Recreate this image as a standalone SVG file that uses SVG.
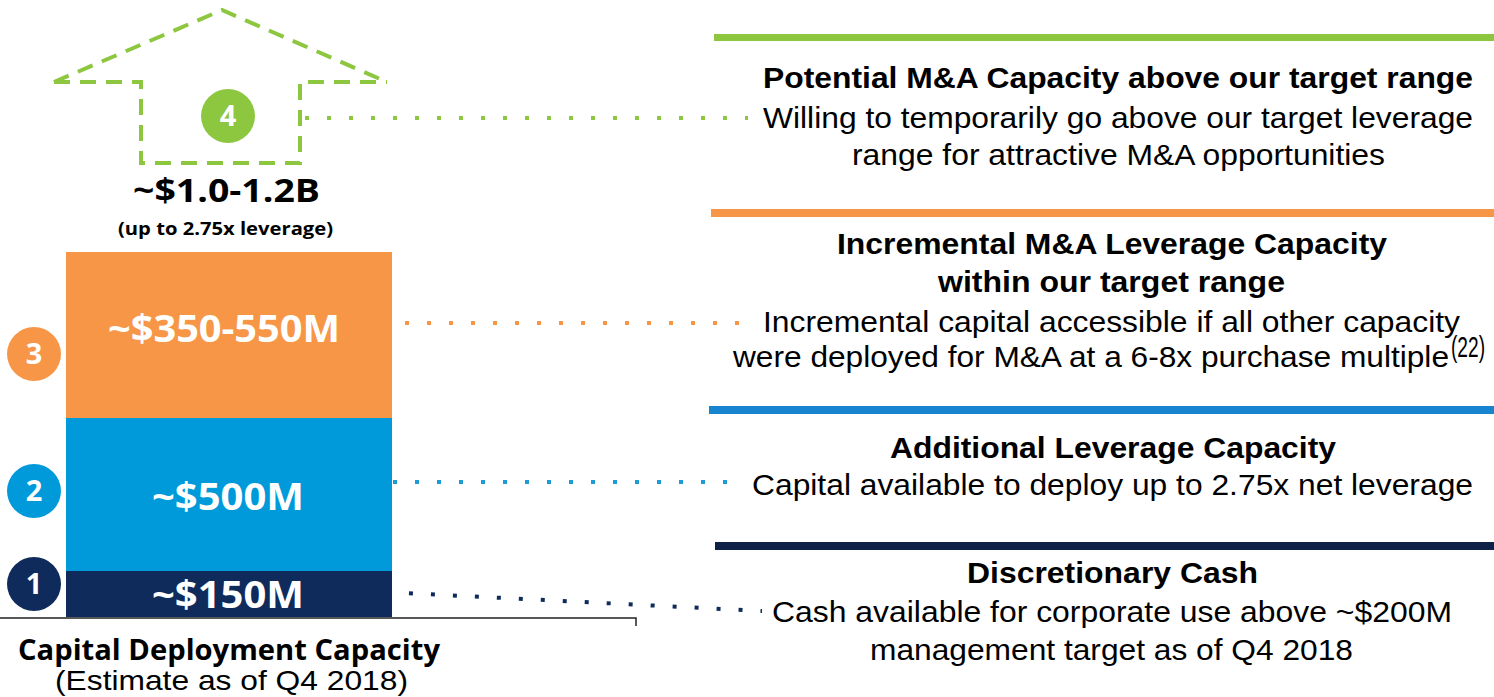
<svg xmlns="http://www.w3.org/2000/svg" width="1494" height="697" viewBox="0 0 1494 697">
<style>
.ob{font-family:"Open Sans","Noto Sans",sans-serif;font-weight:700}
.bar-t{fill:#fff}
.num{font-family:"Open Sans","Noto Sans",sans-serif;font-weight:700;fill:#fff;text-anchor:middle;font-size:29px}
.hd{font-family:"Liberation Sans",Arial,sans-serif;font-weight:700;fill:#000;font-size:29px}
.bd{font-family:"Liberation Sans",Arial,sans-serif;fill:#000;font-size:29px}
.dot{fill:none;stroke-width:4;stroke-dasharray:4 18}
.house{fill:none;stroke:#8DC63F;stroke-width:4;stroke-dasharray:16 10}
</style>
<rect width="1494" height="697" fill="#fff"/>

<g id="house">
<path class="house" d="M54 82 L222 10 L387 82"/>
<path class="house" d="M54 82 H141 V163 H300 V82 H387"/>
</g>

<g id="node4">
<circle cx="228" cy="116" r="27" fill="#8DC63F"/>
<text class="num" x="228" y="126">4</text>
</g>

<g id="total">
<text class="ob" x="133" y="202" font-size="32" textLength="187" lengthAdjust="spacingAndGlyphs" fill="#000">~$1.0-1.2B</text>
<text class="ob" x="118" y="235" font-size="18" textLength="215" lengthAdjust="spacingAndGlyphs" fill="#000">(up to 2.75x leverage)</text>
</g>

<g id="bar3">
<rect x="66" y="252" width="326" height="166" fill="#F79646"/>
<text class="ob bar-t" x="108" y="342" font-size="38" textLength="232" lengthAdjust="spacingAndGlyphs">~$350-550M</text>
</g>
<g id="bar2">
<rect x="66" y="418" width="326" height="153" fill="#0099DA"/>
<text class="ob bar-t" x="152" y="510" font-size="38" textLength="152" lengthAdjust="spacingAndGlyphs">~$500M</text>
</g>
<g id="bar1">
<rect x="66" y="571" width="326" height="46" fill="#0F2B5B"/>
<text class="ob bar-t" x="152" y="608" font-size="38" textLength="152" lengthAdjust="spacingAndGlyphs">~$150M</text>
</g>

<g id="node3"><circle cx="34" cy="354" r="27" fill="#F79646"/><text class="num" x="34" y="364">3</text></g>
<g id="node2"><circle cx="34" cy="491" r="27" fill="#0099DA"/><text class="num" x="34" y="501">2</text></g>
<g id="node1"><circle cx="34" cy="584" r="27" fill="#0F2B5B"/><text class="num" x="34" y="594">1</text></g>

<g id="axis">
<path d="M0 618 H636 V626" fill="none" stroke="#222" stroke-width="1.5"/>
<text class="ob" x="18" y="660" font-size="29" textLength="422" lengthAdjust="spacingAndGlyphs" fill="#000">Capital Deployment Capacity</text>
<text x="55" y="690" font-family="'Liberation Sans',Arial,sans-serif" font-size="28" textLength="353" lengthAdjust="spacingAndGlyphs" fill="#000">(Estimate as of Q4 2018)</text>
</g>

<g id="connectors">
<line class="dot" x1="305" y1="118" x2="748" y2="118" stroke="#8DC63F"/>
<line class="dot" x1="405" y1="323" x2="748" y2="323" stroke="#F79646"/>
<line class="dot" x1="393" y1="482" x2="730" y2="482" stroke="#1E9BD7"/>
<line class="dot" x1="365" y1="591" x2="762" y2="611" stroke="#0F2B5B"/>
</g>

<g id="desc4">
<rect x="714" y="34" width="780" height="7" fill="#8DC63F"/>
<text class="hd" x="763" y="88" textLength="710" lengthAdjust="spacingAndGlyphs">Potential M&amp;A Capacity above our target range</text>
<text class="bd" x="763" y="128" textLength="710" lengthAdjust="spacingAndGlyphs">Willing to temporarily go above our target leverage</text>
<text class="bd" x="852" y="165" textLength="533" lengthAdjust="spacingAndGlyphs">range for attractive M&amp;A opportunities</text>
</g>

<g id="desc3">
<rect x="711" y="209" width="783" height="8" fill="#F79646"/>
<text class="hd" x="837" y="254" textLength="550" lengthAdjust="spacingAndGlyphs">Incremental M&amp;A Leverage Capacity</text>
<text class="hd" x="938" y="292" textLength="347" lengthAdjust="spacingAndGlyphs">within our target range</text>
<text class="bd" x="763" y="332" textLength="697" lengthAdjust="spacingAndGlyphs">Incremental capital accessible if all other capacity</text>
<text class="bd" x="733" y="367" textLength="716" lengthAdjust="spacingAndGlyphs">were deployed for M&amp;A at a 6-8x purchase multiple</text>
<text class="bd" x="1451" y="357" font-size="17" textLength="34" lengthAdjust="spacingAndGlyphs">(22)</text>
</g>

<g id="desc2">
<rect x="709" y="406" width="785" height="8" fill="#1784D0"/>
<text class="hd" x="890" y="458" textLength="446" lengthAdjust="spacingAndGlyphs">Additional Leverage Capacity</text>
<text class="bd" x="752" y="495" textLength="721" lengthAdjust="spacingAndGlyphs">Capital available to deploy up to 2.75x net leverage</text>
</g>

<g id="desc1">
<rect x="715" y="542" width="779" height="8" fill="#0F2049"/>
<text class="hd" x="967" y="583" textLength="291" lengthAdjust="spacingAndGlyphs">Discretionary Cash</text>
<text class="bd" x="772" y="622" textLength="680" lengthAdjust="spacingAndGlyphs">Cash available for corporate use above ~$200M</text>
<text class="bd" x="870" y="660" textLength="483" lengthAdjust="spacingAndGlyphs">management target as of Q4 2018</text>
</g>
</svg>
